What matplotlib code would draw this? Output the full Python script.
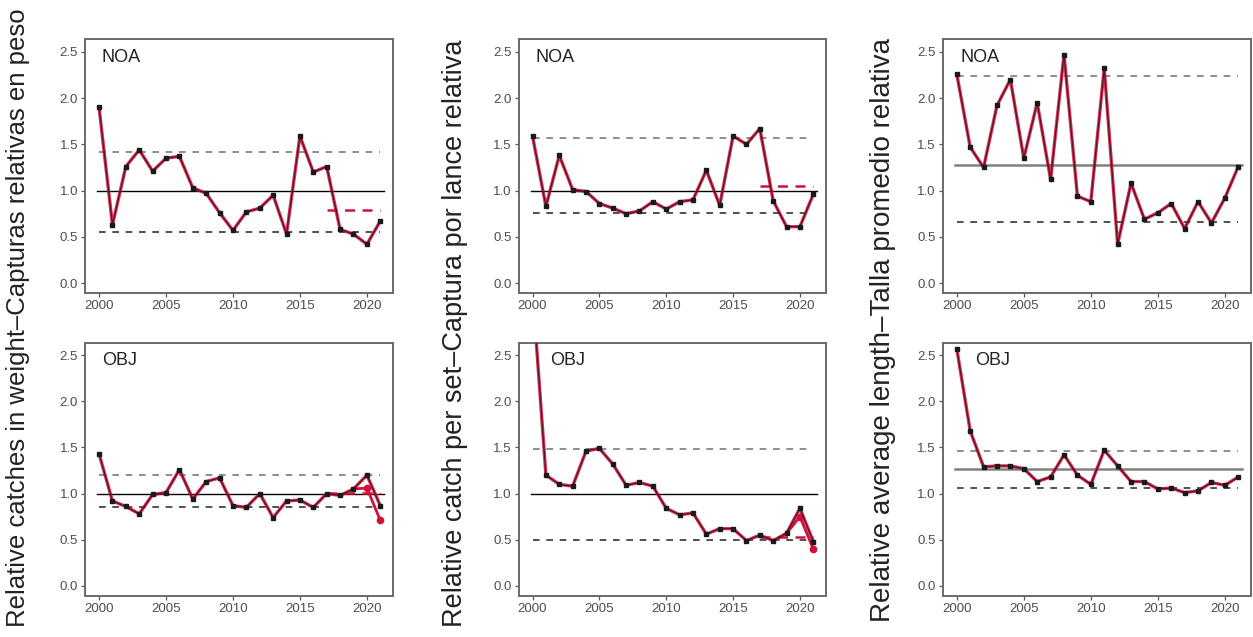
import matplotlib
matplotlib.use("Agg")
import matplotlib.pyplot as plt

plt.rcParams['font.family'] = ['Liberation Sans', 'DejaVu Sans']

years = list(range(2000, 2022))

# top row - NOA
noa_catch = [1.90, 0.63, 1.26, 1.44, 1.21, 1.35, 1.37, 1.03, 0.97, 0.76, 0.57,
             0.77, 0.81, 0.95, 0.53, 1.59, 1.20, 1.26, 0.58, 0.53, 0.42, 0.67]
noa_cpue = [1.59, 0.83, 1.38, 1.01, 0.99, 0.86, 0.81, 0.75, 0.78, 0.88, 0.80,
            0.88, 0.90, 1.22, 0.84, 1.59, 1.50, 1.67, 0.89, 0.61, 0.61, 0.96]
noa_length = [2.26, 1.47, 1.25, 1.92, 2.20, 1.35, 1.95, 1.12, 2.47, 0.94, 0.88,
              2.32, 0.42, 1.08, 0.69, 0.76, 0.86, 0.59, 0.88, 0.65, 0.92, 1.26]

# bottom row - OBJ
obj_catch = [1.43, 0.92, 0.86, 0.78, 0.99, 1.01, 1.26, 0.94, 1.13, 1.17, 0.87,
             0.85, 1.00, 0.74, 0.92, 0.93, 0.85, 1.00, 0.98, 1.05, 1.20, 0.87]
obj_cpue = [3.20, 1.20, 1.10, 1.08, 1.46, 1.49, 1.32, 1.09, 1.12, 1.08, 0.84,
            0.77, 0.79, 0.56, 0.62, 0.62, 0.49, 0.55, 0.49, 0.57, 0.84, 0.48]
obj_length = [2.57, 1.68, 1.29, 1.30, 1.30, 1.27, 1.13, 1.18, 1.42, 1.20, 1.10,
              1.47, 1.30, 1.13, 1.13, 1.05, 1.06, 1.01, 1.03, 1.12, 1.09, 1.18]

# preliminary (red) values, 2019-2021
red_years = [2019, 2020, 2021]
obj_catch_red = [1.05, 1.06, 0.71]
obj_cpue_red = [0.57, 0.75, 0.40]

# reference lines: mean, upper, lower, recent mean (red)
ref_noa_catch = (1.0, 1.42, 0.55, 0.79)
ref_noa_cpue = (1.0, 1.57, 0.76, 1.05)
ref_noa_length = (1.28, 2.24, 0.66, None)
ref_obj_catch = (1.0, 1.20, 0.85, 1.01)
ref_obj_cpue = (1.0, 1.48, 0.50, 0.53)
ref_obj_length = (1.27, 1.46, 1.06, None)

ylabels = ["Relative catches in weight\u2013Capturas relativas en peso",
           "Relative catch per set\u2013Captura por lance relativa",
           "Relative average length\u2013Talla promedio relativa"]

RED = '#d0103a'

fig = plt.figure(figsize=(12.53, 6.37), dpi=100)

col_left = [85, 518.5, 942.7]
col_w = [308, 307.5, 308.3]
row_top = [39.3, 342.7]
row_h = [254, 253.3]

panels = [
    (0, 0, noa_catch, ref_noa_catch, None, 'NOA', 2000.2),
    (0, 1, noa_cpue, ref_noa_cpue, None, 'NOA', 2000.2),
    (0, 2, noa_length, ref_noa_length, None, 'NOA', 2000.3),
    (1, 0, obj_catch, ref_obj_catch, obj_catch_red, 'OBJ', 2000.2),
    (1, 1, obj_cpue, ref_obj_cpue, obj_cpue_red, 'OBJ', 2001.3),
    (1, 2, obj_length, ref_obj_length, None, 'OBJ', 2001.4),
]

W, H = 1253.0, 637.0
for r, c, vals, ref, red, lab, lab_x in panels:
    ax = fig.add_axes([col_left[c] / W, 1 - (row_top[r] + row_h[r]) / H,
                       col_w[c] / W, row_h[r] / H])
    mean, up, lo, rmean = ref
    if c == 2:
        ax.axhline(mean, xmin=0.04, xmax=0.97, color='#808080', lw=1.8, zorder=1)
    else:
        ax.axhline(mean, xmin=0.04, xmax=0.97, color='black', lw=1.0, zorder=1)
    ax.plot([2000, 2021], [up, up], color='#7a7a7a', lw=1.2, ls=(0, (4, 4)), zorder=1)
    ax.plot([2000, 2021], [lo, lo], color='#333333', lw=1.2, ls=(0, (4, 4)), zorder=1)
    if rmean is not None:
        ax.plot([2017, 2021], [rmean, rmean], color=RED, lw=1.8,
                ls=(0, (4, 3)), zorder=2)
    if red is not None:
        ax.plot(red_years, red, color=RED, lw=2.0, zorder=2)
        ax.plot(red_years[1:], red[1:], 'o', color=RED, ms=4.5, zorder=2)
    ax.plot(years, vals, color=RED, lw=2.4, alpha=0.85, zorder=3)
    ax.plot(years, vals, color='#3a0a14', lw=0.9, alpha=0.8, zorder=4)
    ax.plot(years, vals, 's', color='#1a1a1a', ms=2.6, zorder=5)

    ax.text(lab_x, 2.44, lab, fontsize=13, color='#222222', va='center', ha='left')

    ax.set_xlim(1998.95, 2021.95)
    ax.set_ylim(-0.11, 2.635)
    ax.set_xticks([2000, 2005, 2010, 2015, 2020])
    ax.set_yticks([0.0, 0.5, 1.0, 1.5, 2.0, 2.5])
    ax.set_yticklabels(['0.0', '0.5', '1.0', '1.5', '2.0', '2.5'])
    ax.tick_params(colors='#555555', labelsize=9.5, length=3, width=0.9,
                   labelcolor='#4d4d4d', pad=2)
    for s in ax.spines.values():
        s.set_color('#6a6a6a')
        s.set_linewidth(1.4)

label_x = [18, 455, 883]
label_y = [318, 333, 330]
label_size = [18.5, 19.5, 20]
for i, txt in enumerate(ylabels):
    fig.text(label_x[i] / W, 1 - label_y[i] / H, txt, rotation=90,
             fontsize=label_size[i], color='#222222', ha='center', va='center')

fig.savefig('out.png', dpi=100)
